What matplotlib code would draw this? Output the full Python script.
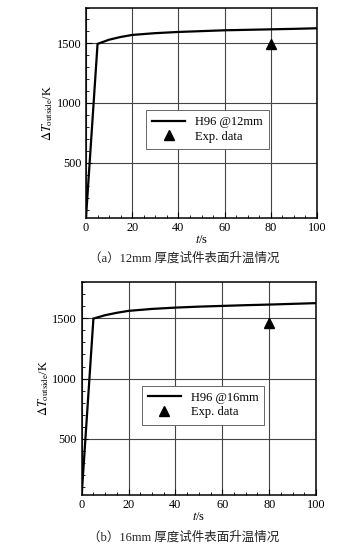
import matplotlib
matplotlib.use("Agg")
import matplotlib.pyplot as plt
from matplotlib.ticker import MultipleLocator
from matplotlib.lines import Line2D

plt.rcParams['font.family'] = ['Liberation Serif', 'Noto Sans CJK SC']
plt.rcParams['mathtext.fontset'] = 'stix'

# Data
t_sim = [0, 5, 10, 15, 20, 30, 40, 50, 60, 70, 80, 90, 100]
T_12mm = [40, 1495, 1530, 1553, 1570, 1585, 1595, 1602, 1609, 1613, 1617, 1621, 1626]
T_16mm = [40, 1497, 1525, 1545, 1561, 1577, 1588, 1596, 1602, 1608, 1613, 1619, 1625]
t_exp = [80]
T_exp_12 = [1495]
T_exp_16 = [1463]
labels_sim = ['H96 @12mm', 'H96 @16mm']
captions = ['（a）12mm 厚度试件表面升温情况', '（b）16mm 厚度试件表面升温情况']

W, H = 358, 544
fig = plt.figure(figsize=(W / 100, H / 100), dpi=100)

def px_axes(l, r, t, b):
    return fig.add_axes([l / W, 1 - b / H, (r - l) / W, (b - t) / H])

panels = [
    dict(rect=(86, 317, 7.5, 217.5), T=T_12mm, Te=T_exp_12, lab=labels_sim[0],
         cap=captions[0], capy=258, legc=(0.526, 0.419)),
    dict(rect=(81.7, 316, 282, 494.5), T=T_16mm, Te=T_exp_16, lab=labels_sim[1],
         cap=captions[1], capy=537, legc=(0.518, 0.421)),
]

for p in panels:
    ax = px_axes(*p['rect'])
    ax.plot(t_sim, p['T'], color='black', lw=1.6, solid_joinstyle='miter')
    ax.plot(t_exp, p['Te'], linestyle='none', marker='^', color='black', ms=6.5)
    ax.set_xlim(0, 100)
    ax.set_ylim(40, 1800)
    ax.xaxis.set_major_locator(MultipleLocator(20))
    ax.xaxis.set_minor_locator(MultipleLocator(5))
    ax.yaxis.set_major_locator(MultipleLocator(500))
    ax.yaxis.set_minor_locator(MultipleLocator(100))
    ax.grid(True, which='major', color='#444444', lw=0.8)
    ax.set_axisbelow(True)
    ax.tick_params(which='both', direction='in', labelsize=8.8, top=False, right=False)
    ax.tick_params(which='major', length=4, width=0.8, pad=3.5)
    ax.tick_params(which='minor', length=2.5, width=0.6)
    for s in ax.spines.values():
        s.set_linewidth(1.1)
    ax.set_xlabel(r'$t$/s', fontsize=9, labelpad=0)
    ax.set_ylabel(r'$\Delta T_{\rm outside}$/K', fontsize=9, labelpad=1)
    handles = [Line2D([0], [0], color='black', lw=1.6),
               Line2D([0], [0], linestyle='none', marker='^', color='black', ms=6.5)]
    leg = ax.legend(handles, [p['lab'], 'Exp. data'], loc='center',
                    bbox_to_anchor=p['legc'], fontsize=9, fancybox=False,
                    framealpha=1, edgecolor='#666666', handlelength=2.6,
                    borderpad=0.5, labelspacing=0.2, handletextpad=0.8)
    leg.get_frame().set_linewidth(0.7)
    fig.text(184 / W, 1 - p['capy'] / H, p['cap'], ha='center', va='center',
             fontsize=9, color='#222222')

fig.savefig('out.png', dpi=100)
